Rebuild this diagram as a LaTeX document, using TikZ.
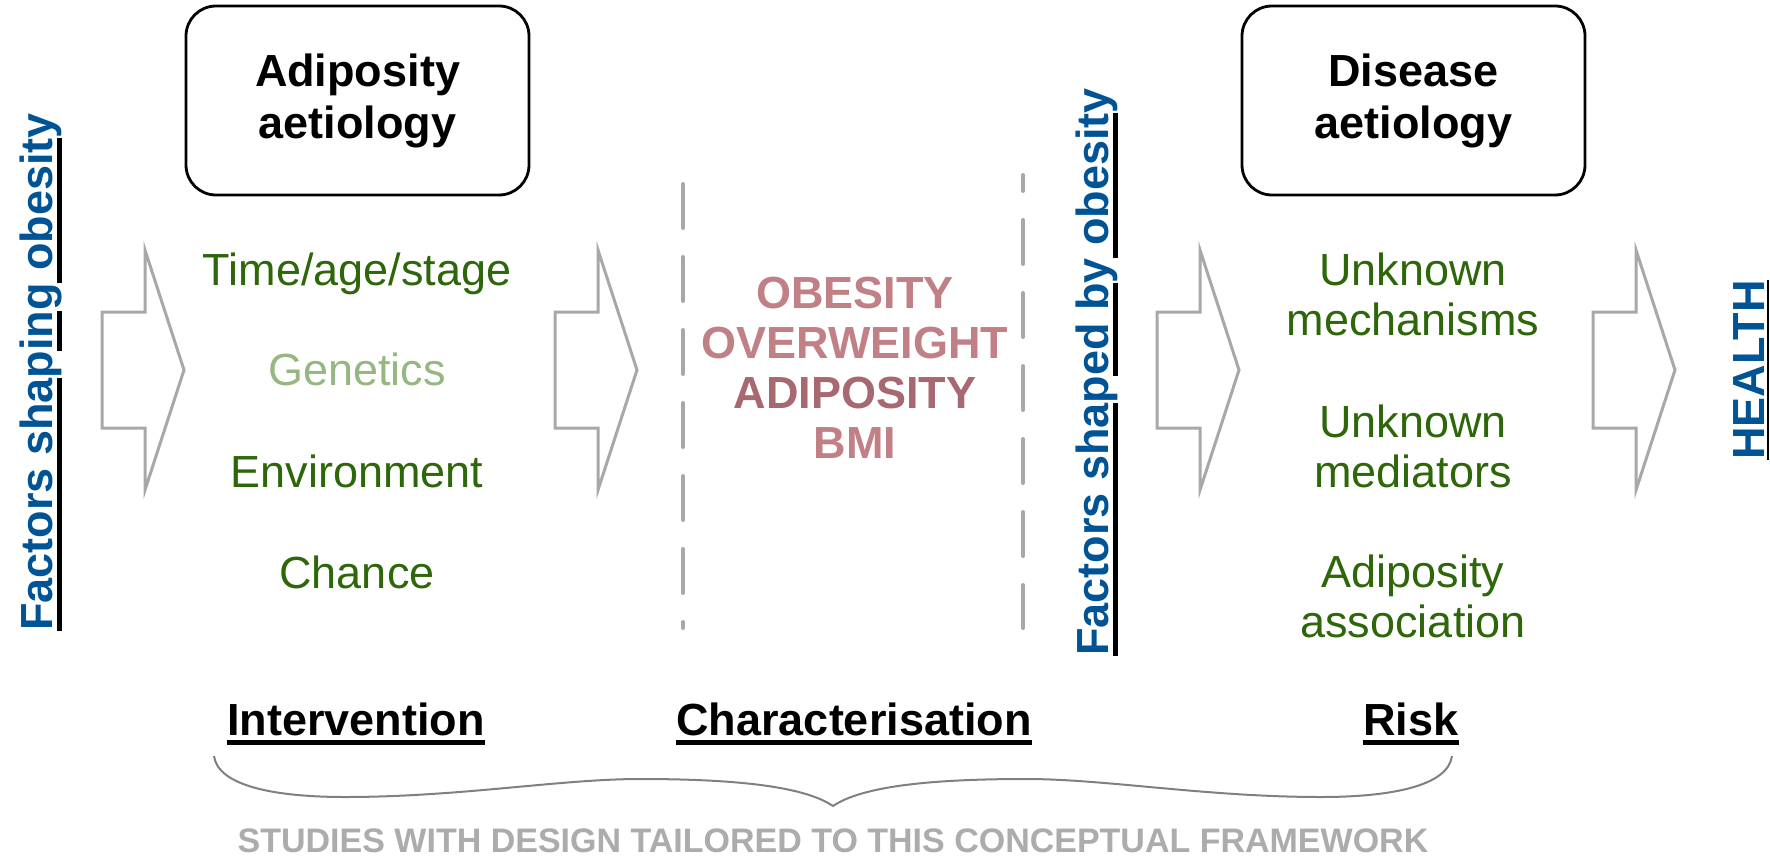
\documentclass[tikz,border=0pt]{standalone}
\usepackage{fontspec}
\setmainfont{Liberation Sans}
\usetikzlibrary{positioning}
\definecolor{factblue}{RGB}{0,84,150}
\definecolor{leafgreen}{RGB}{46,102,10}
\definecolor{paleleaf}{RGB}{150,182,130}
\definecolor{rosetext}{RGB}{192,128,134}
\definecolor{rosedark}{RGB}{168,104,112}
\definecolor{arrgray}{RGB}{168,168,168}
\definecolor{bracegray}{RGB}{128,128,128}
\definecolor{capgray}{RGB}{172,172,172}

% underline that stops at the descenders
\newcommand\ulseg[1]{\setbox0=\hbox{#1}\rlap{\color{black}\rule[-5pt]{\wd0}{2.5pt}}\box0}
\newcommand\ulthin[1]{\setbox0=\hbox{#1}\rlap{\color{black}\rule[-2.4pt]{\wd0}{0.8pt}}\box0}

\begin{document}
\begin{tikzpicture}[
  x=0.5pt,y=-0.5pt,
  every node/.style={inner sep=0pt,outer sep=0pt},
  titlebox/.style={draw,line width=1.4pt,rounded corners=15pt,
              minimum width=171.5pt,minimum height=94.5pt,align=center,
              font=\fontsize{22.5}{26}\selectfont\bfseries},
  factor/.style={anchor=base,align=center,text=leafgreen,
              font=\fontsize{22.5}{25}\selectfont},
  measure/.style={anchor=base,align=center,text=rosetext,
              font=\fontsize{22.5}{25}\selectfont\bfseries},
  vlabel/.style={rotate=90,anchor=base,text=factblue,
              font=\fontsize{22.5}{25}\selectfont\bfseries},
  phase/.style={anchor=base,font=\fontsize{22.5}{25}\selectfont\bfseries},
  caption/.style={anchor=base,text=capgray,font=\fontsize{17}{20}\selectfont\bfseries},
  fatarr/.style={draw=arrgray,line width=1.5pt,fill=white},
  divider/.style={draw=arrgray,line width=2pt,line cap=round,
              dash pattern=on 22pt off 14.5pt},
  brace/.style={draw=bracegray,line width=1pt}
]
\useasboundingbox[fill=white] (0,0) rectangle (1770,856);

% block arrows along the causal chain
\foreach \ax in {102,555,1157,1593}
  \draw[fatarr] (\ax,312) -- ++(43,0) -- ++(0,-62) -- ++(39,120)
     -- ++(-39,120) -- ++(0,-62) -- ++(-43,0) -- cycle;

\node[titlebox] (adip) at (357.5,100.5) {Adiposity\\aetiology};
\node[titlebox] (dis) at (1413.5,100.5) {Disease\\aetiology};

\node[factor] (time) at (357,285) {Time/age/stage};
\node[factor,text=paleleaf] (gen) at (357,385) {Genetics};
\node[factor] (env) at (357,487) {Environment};
\node[factor] (chance) at (357,588) {Chance};

% multi-line nodes sit on the baseline of their last line
\node[measure] (bmi) at (855,458)
  {OBESITY\\OVERWEIGHT\\\textcolor{rosedark}{ADIPOSITY}\\BMI};

\node[factor] (mech) at (1413,335) {Unknown\\mechanisms};
\node[factor] (medi) at (1413,487) {Unknown\\mediators};
\node[factor] (assoc) at (1413,637) {Adiposity\\association};

\node[vlabel] (shaping) at (52,372) {\ulseg{Factors sha}p\ulseg{in}g\ulseg{ obesit}y};
\node[vlabel] (shaped) at (1108,372) {\ulseg{Factors sha}p\ulseg{ed b}y\ulseg{ obesit}y};
\node[vlabel] (health) at (1764,370) {\ulthin{HEALTH}};

\draw[divider] (683,184) -- (683,628);
\draw[divider,dash phase=14pt] (1023,175) -- (1023,628);

\node[phase] (interv) at (356,735) {\ulseg{Intervention}};
\node[phase] (charac) at (854,735) {\ulseg{Characterisation}};
\node[phase] (risk) at (1411,735) {\ulseg{Risk}};

\draw[brace] (214,756) .. controls (218,786) and (275,797) .. (345,797)
  .. controls (460,797) and (560,779) .. (640,779)
  .. controls (740,779) and (805,787) .. (833,806)
  .. controls (861,787) and (926,779) .. (1026,779)
  .. controls (1106,779) and (1206,797) .. (1321,797)
  .. controls (1391,797) and (1448,786) .. (1452,756);

\node[caption] (studies) at (833,852) {STUDIES WITH DESIGN TAILORED TO THIS CONCEPTUAL FRAMEWORK};
\end{tikzpicture}
\end{document}
